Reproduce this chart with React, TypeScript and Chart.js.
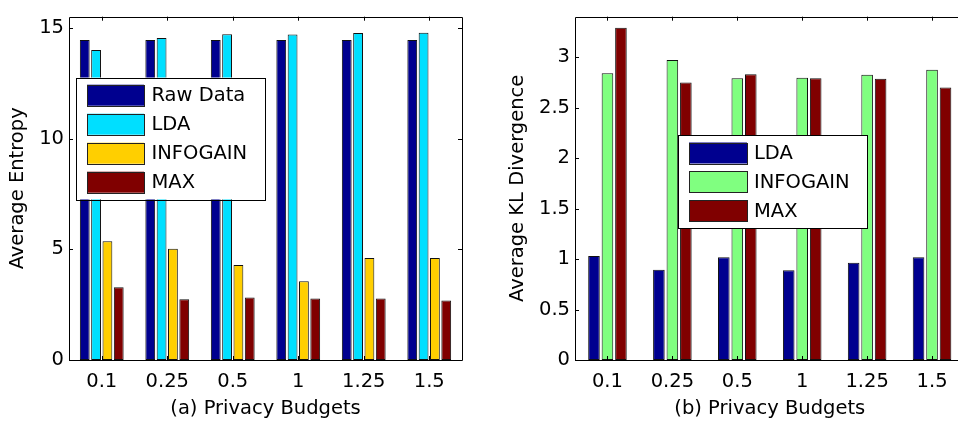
import React, { useEffect, useRef } from "react";
import { Chart, registerables } from "chart.js";

Chart.register(...registerables);

// ---------- data ----------
const budgets = ["0.1", "0.25", "0.5", "1", "1.25", "1.5"];

const entropyRaw = [14.45, 14.45, 14.45, 14.45, 14.45, 14.45];
const entropyLDA = [14.0, 14.54, 14.71, 14.7, 14.76, 14.78];
const entropyInfogain = [5.36, 5.02, 4.29, 3.55, 4.6, 4.6];
const entropyMax = [3.29, 2.74, 2.82, 2.78, 2.78, 2.69];
const entropyTicks = [0, 5, 10, 15];

const klLDA = [1.03, 0.894, 1.018, 0.89, 0.964, 1.018];
const klInfogain = [2.84, 2.97, 2.79, 2.796, 2.824, 2.875];
const klMax = [3.29, 2.748, 2.83, 2.79, 2.786, 2.7];
const klTicks = [0, 0.5, 1, 1.5, 2, 2.5, 3];

// ---------- styles ----------
const NAVY = "#00008f";
const CYAN = "#00dfff";
const YELLOW = "#ffcf00";
const DARKRED = "#800000";
const GREEN = "#80ff80";
const FONT_FAMILY = "'DejaVu Sans', 'Liberation Sans', Arial, sans-serif";
const FONT = { family: FONT_FAMILY, size: 19.5 };

// box, inward ticks and in-plot legend
const boxLegendPlugin = {
  id: "boxLegend",
  afterDraw(chart: any, _args: any, opts: any) {
    const { ctx, chartArea } = chart;
    const { left, right, top, bottom } = chartArea;
    const xs = chart.scales.x;
    const ys = chart.scales.y;
    ctx.save();
    ctx.strokeStyle = "#000";
    ctx.lineWidth = 1;
    // box
    ctx.beginPath();
    ctx.rect(Math.round(left) + 0.5, Math.round(top) + 0.5, Math.round(right) - Math.round(left), Math.round(bottom) - Math.round(top));
    ctx.stroke();
    // inward ticks
    const tl = 4;
    ctx.beginPath();
    xs.ticks.forEach((_t: any, i: number) => {
      const px = Math.round(xs.getPixelForTick(i)) + 0.5;
      ctx.moveTo(px, top);
      ctx.lineTo(px, top + tl);
      ctx.moveTo(px, bottom);
      ctx.lineTo(px, bottom - tl);
    });
    ys.ticks.forEach((t: any) => {
      const py = Math.round(ys.getPixelForValue(t.value)) + 0.5;
      ctx.moveTo(left, py);
      ctx.lineTo(left + tl, py);
      ctx.moveTo(right, py);
      ctx.lineTo(right - tl, py);
    });
    ctx.stroke();

    // legend
    const L = opts.legend;
    if (L) {
      ctx.fillStyle = "#fff";
      ctx.fillRect(L.x, L.y, L.w, L.h);
      ctx.strokeStyle = "#000";
      ctx.lineWidth = 1;
      ctx.strokeRect(Math.round(L.x) + 0.5, Math.round(L.y) + 0.5, Math.round(L.w), Math.round(L.h));
      ctx.font = `${FONT.size}px ${FONT_FAMILY}`;
      ctx.textBaseline = "middle";
      ctx.textAlign = "left";
      chart.data.datasets.forEach((ds: any, i: number) => {
        const cy = L.firstRow + i * L.rowGap;
        ctx.fillStyle = ds.backgroundColor;
        ctx.fillRect(L.swX, cy - L.swH / 2, L.swW, L.swH);
        ctx.strokeStyle = "#222";
        ctx.strokeRect(Math.round(L.swX) + 0.5, Math.round(cy - L.swH / 2) + 0.5, Math.round(L.swW), Math.round(L.swH));
        ctx.fillStyle = "#000";
        ctx.fillText(ds.label, L.textX, cy + 1);
      });
    }
    ctx.restore();
  },
};

function makeConfig(p: any) {
  return {
    type: "bar",
    data: {
      labels: budgets,
      datasets: p.series.map((s: any) => ({
        label: s.label,
        data: s.data,
        backgroundColor: s.color,
        borderColor: "#111",
        borderWidth: 1,
        borderSkipped: false,
        categoryPercentage: p.catPct,
        barPercentage: p.barPct,
      })),
    },
    options: {
      responsive: false,
      animation: false,
      devicePixelRatio: 1,
      layout: { padding: { left: 0, top: 3.5, right: p.padRight, bottom: 0 } },
      plugins: {
        legend: { display: false },
        tooltip: { enabled: false },
        boxLegend: { legend: p.legend },
      },
      scales: {
        x: {
          type: "category",
          offset: true,
          grid: { display: false, drawTicks: false },
          border: { display: false },
          ticks: { color: "#000", font: FONT, padding: 10, maxRotation: 0, autoSkip: false },
          title: { display: true, text: p.xTitle, color: "#000", font: FONT, padding: { top: 4, bottom: 0 } },
          afterFit: (s: any) => {
            s.height = 61;
          },
        },
        y: {
          type: "linear",
          min: 0,
          max: p.yMax,
          afterBuildTicks: (s: any) => {
            s.ticks = p.yTicks.map((v: number) => ({ value: v }));
          },
          grid: { display: false, drawTicks: false },
          border: { display: false },
          ticks: { color: "#000", font: FONT, padding: 5, callback: (v: number) => String(v) },
          title: { display: true, text: p.yTitle, color: "#000", font: FONT, padding: { top: p.yTitlePad, bottom: 0 } },
          afterFit: (s: any) => {
            s.width = p.yWidth;
          },
        },
      },
    },
    plugins: [boxLegendPlugin],
  };
}

const leftParams = {
  series: [
    { label: "Raw Data", data: entropyRaw, color: NAVY },
    { label: "LDA", data: entropyLDA, color: CYAN },
    { label: "INFOGAIN", data: entropyInfogain, color: YELLOW },
    { label: "MAX", data: entropyMax, color: DARKRED },
  ],
  catPct: 0.692,
  barPct: 0.865,
  padRight: 18,
  yMax: 15.5,
  yTicks: entropyTicks,
  yWidth: 69,
  yTitlePad: 6,
  xTitle: "(a) Privacy Budgets",
  yTitle: "Average Entropy",
  legend: { x: 75.5, y: 77.5, w: 189, h: 122, swX: 87, swW: 57, swH: 21, firstRow: 95.2, rowGap: 29, textX: 151.5 },
};

const rightParams = {
  series: [
    { label: "LDA", data: klLDA, color: NAVY },
    { label: "INFOGAIN", data: klInfogain, color: GREEN },
    { label: "MAX", data: klMax, color: DARKRED },
  ],
  catPct: 0.623,
  barPct: 0.86,
  padRight: 5.5,
  yMax: 3.4,
  yTicks: klTicks,
  yWidth: 95,
  yTitlePad: 26,
  xTitle: "(b) Privacy Budgets",
  yTitle: "Average KL Divergence",
  legend: { x: 198, y: 135, w: 189, h: 93, swX: 209, swW: 58, swH: 21, firstRow: 153, rowGap: 28.8, textX: 274 },
};

function BarChart({ params, width, height }: { params: any; width: number; height: number }) {
  const ref = useRef<HTMLCanvasElement | null>(null);
  useEffect(() => {
    if (!ref.current) return;
    const chart = new Chart(ref.current, makeConfig(params) as any);
    return () => chart.destroy();
  }, [params]);
  return <canvas ref={ref} width={width} height={height} style={{ width, height, display: "block" }} />;
}

export default function App() {
  return (
    <div style={{ position: "fixed", left: 0, top: 0, width: 958, height: 421, overflow: "hidden", background: "#fff" }}>
      <div style={{ position: "absolute", left: 0, top: 0, width: 480, height: 421 }}>
        <BarChart params={leftParams} width={480} height={421} />
      </div>
      <div style={{ position: "absolute", left: 480, top: 0, width: 490, height: 421 }}>
        <BarChart params={rightParams} width={490} height={421} />
      </div>
    </div>
  );
}
